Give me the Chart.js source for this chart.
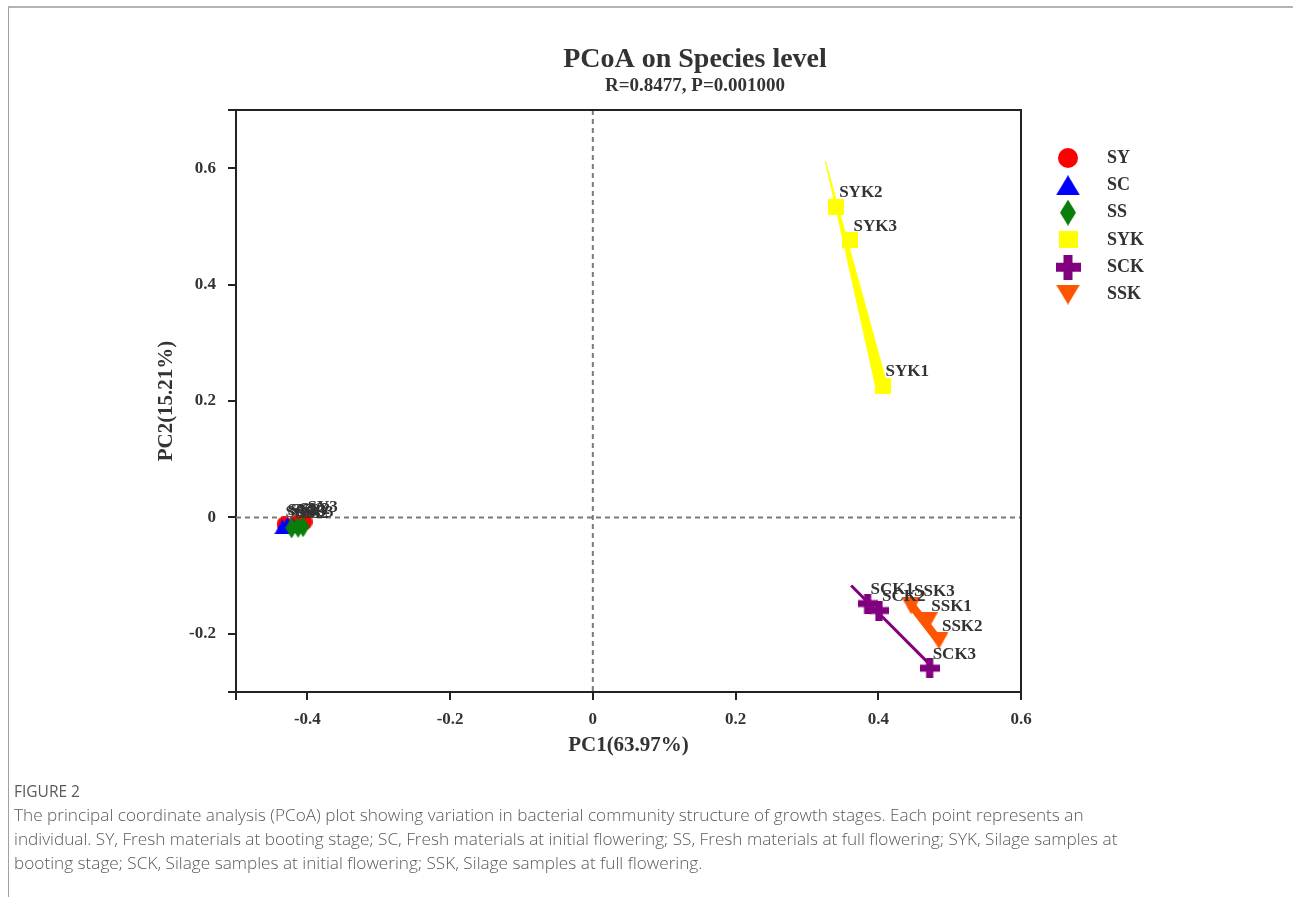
<!DOCTYPE html>
<html>
<head>
<meta charset="utf-8">
<script src="https://cdn.jsdelivr.net/npm/chart.js@4.4.1/dist/chart.umd.min.js"></script>
<style>
  html, body { margin: 0; padding: 0; background: #fff; }
  body { width: 1293px; height: 897px; position: relative; overflow: hidden; }
  .frame { position: absolute; left: 8px; top: 6px; right: 0; bottom: 0;
           border-top: 2px solid #b4b4b4; border-left: 1px solid #a0a0a0; }
  #wrap { position: absolute; left: 0; top: 0; width: 1293px; height: 780px; }
  .caption { position: absolute; left: 14px; top: 779px; width: 1260px;
             font-family: "Open Sans", Lato, sans-serif; color: #5a5a5a; }
  .caption .fig { font-size: 15.5px; line-height: 24px; }
  .caption .txt { font-size: 17.2px; line-height: 24px; font-weight: 300; }
</style>
</head>
<body>
<div class="frame"></div>
<div id="wrap"><canvas id="pcoa"></canvas></div>
<div class="caption">
  <div class="fig">FIGURE 2</div>
  <div class="txt">The principal coordinate analysis (PCoA) plot showing variation in bacterial community structure of growth stages. Each point represents an<br>individual. SY, Fresh materials at booting stage; SC, Fresh materials at initial flowering; SS, Fresh materials at full flowering; SYK, Silage samples at<br>booting stage; SCK, Silage samples at initial flowering; SSK, Silage samples at full flowering.</div>
</div>
<script>
// Sample coordinates [PC1, PC2]
const SY  = [[-0.432, -0.012], [-0.415, -0.010], [-0.404, -0.008]];
const SC  = [[-0.435, -0.016], [-0.428, -0.012], [-0.420, -0.014]];
const SS  = [[-0.422, -0.018], [-0.413, -0.017], [-0.406, -0.016]];
const SYK = [[0.406, 0.226], [0.341, 0.534], [0.361, 0.476]];
const SCK = [[0.385, -0.148], [0.401, -0.160], [0.472, -0.259]];
const SSK = [[0.470, -0.178], [0.485, -0.212], [0.446, -0.152]];

// group trend marks
const sykBand = [[0.326, 0.612], [0.397, 0.221], [0.414, 0.221], [0.326, 0.612]];
const sckLine = [[0.362, -0.117], [0.470, -0.250]];
const sskLine = [[0.446, -0.150], [0.485, -0.212]];

const groupNames  = ['SY', 'SC', 'SS', 'SYK', 'SCK', 'SSK'];
const groupColors = ['#ff0000', '#0000ff', '#0a7d0a', '#ffff00', '#800080', '#ff5500'];
const groupShapes = ['circle', 'triangle', 'diamond', 'square', 'plus', 'triangleDown'];

const xTickValues = [-0.5, -0.4, -0.2, 0, 0.2, 0.4, 0.6];
const xTickLabels = ['', '-0.4', '-0.2', '0', '0.2', '0.4', '0.6'];
const yTickValues = [-0.3, -0.2, 0, 0.2, 0.4, 0.6, 0.7];
const yTickLabels = ['', '-0.2', '0', '0.2', '0.4', '0.6', ''];

const SERIF = '"Liberation Serif", "Times New Roman", serif';

// marker images
function makeMarker(shape, color, w, h) {
    const c = document.createElement('canvas');
    c.width = w; c.height = h;
    const g = c.getContext('2d');
    g.fillStyle = color;
    g.beginPath();
    if (shape === 'circle') {
        g.ellipse(w / 2, h / 2, w / 2, h / 2, 0, 0, Math.PI * 2);
    } else if (shape === 'triangle') {
        g.moveTo(w / 2, 0); g.lineTo(w, h); g.lineTo(0, h);
    } else if (shape === 'triangleDown') {
        g.moveTo(0, 0); g.lineTo(w, 0); g.lineTo(w / 2, h);
    } else if (shape === 'diamond') {
        g.moveTo(w / 2, 0); g.lineTo(w, h / 2); g.lineTo(w / 2, h); g.lineTo(0, h / 2);
    } else if (shape === 'square') {
        g.rect(0, 0, w, h);
    } else if (shape === 'plus') {
        const t = w * 0.36;
        g.rect((w - t) / 2, 0, t, h);
        g.rect(0, (h - t) / 2, w, t);
    }
    g.fill();
    return c;
}

const plotSizes   = [[16, 16], [16, 15], [13, 21], [16, 16], [20, 20], [19, 17]];
const legendSizes = [[20, 20], [24, 20], [16, 26], [19, 17], [25, 25], [24, 20]];
const plotMarkers   = groupShapes.map((s, i) => makeMarker(s, groupColors[i], plotSizes[i][0], plotSizes[i][1]));
const legendMarkers = groupShapes.map((s, i) => makeMarker(s, groupColors[i], legendSizes[i][0], legendSizes[i][1]));

const toXY = arr => arr.map(p => ({ x: p[0], y: p[1] }));
const groupData = [SY, SC, SS, SYK, SCK, SSK];

// later groups are drawn on top of earlier ones
const datasets = groupData.map((pts, i) => ({
    label: groupNames[i],
    data: toXY(pts),
    sampleLabels: pts.map((p, k) => groupNames[i] + (k + 1)),
    pointStyle: plotMarkers[i],
    backgroundColor: groupColors[i],
    showLine: false,
    order: 6 - i
}));

datasets.push({
    label: 'SYK band', data: toXY(sykBand), showLine: true, fill: 'shape',
    backgroundColor: '#ffff00', borderColor: '#ffff00', borderWidth: 1,
    pointRadius: 0, order: 10
});
datasets.push({
    label: 'SCK line', data: toXY(sckLine), showLine: true,
    borderColor: '#800080', borderWidth: 3, pointRadius: 0, order: 10
});
datasets.push({
    label: 'SSK line', data: toXY(sskLine), showLine: true,
    borderColor: '#ff5500', borderWidth: 8, pointRadius: 0, order: 10
});

// frame + zero reference lines
const framePlugin = {
    id: 'framePlugin',
    beforeDatasetsDraw(chart) {
        const { ctx, chartArea: a, scales } = chart;
        const x0 = scales.x.getPixelForValue(0);
        const y0 = scales.y.getPixelForValue(0);
        ctx.save();
        ctx.strokeStyle = '#7a7a7a';
        ctx.lineWidth = 2;
        ctx.setLineDash([5, 4]);
        ctx.beginPath();
        ctx.moveTo(x0, a.top); ctx.lineTo(x0, a.bottom);
        ctx.moveTo(a.left, y0); ctx.lineTo(a.right, y0);
        ctx.stroke();
        ctx.restore();
    },
    afterDraw(chart) {
        const { ctx, chartArea: a } = chart;
        ctx.save();
        ctx.strokeStyle = '#222';
        ctx.lineWidth = 2;
        ctx.beginPath();
        ctx.moveTo(a.left, a.top); ctx.lineTo(a.right, a.top); ctx.lineTo(a.right, a.bottom);
        ctx.stroke();
        ctx.restore();
    }
};

// sample name labels next to each point
const labelPlugin = {
    id: 'labelPlugin',
    afterDatasetsDraw(chart) {
        const { ctx } = chart;
        ctx.save();
        ctx.font = 'bold 17px ' + SERIF;
        ctx.fillStyle = '#333';
        ctx.textBaseline = 'middle';
        ctx.textAlign = 'left';
        chart.data.datasets.forEach((ds, i) => {
            if (!ds.sampleLabels) return;
            chart.getDatasetMeta(i).data.forEach((pt, k) => {
                ctx.fillText(ds.sampleLabels[k], pt.x + 3, pt.y - 14);
            });
        });
        ctx.restore();
    }
};

// headings and legend
const headPlugin = {
    id: 'headPlugin',
    afterDraw(chart) {
        const { ctx } = chart;
        ctx.save();
        ctx.fillStyle = '#333';
        ctx.textAlign = 'center';
        ctx.textBaseline = 'middle';
        ctx.font = 'bold 28px ' + SERIF;
        ctx.fillText('PCoA on Species level', 695, 60);
        ctx.font = 'bold 19px ' + SERIF;
        ctx.fillText('R=0.8477, P=0.001000', 695, 86);

        const legX = 1068, legY = 158, step = 27.3;
        ctx.textAlign = 'left';
        ctx.font = 'bold 18px ' + SERIF;
        groupNames.forEach((name, i) => {
            const m = legendMarkers[i];
            const cy = legY + i * step;
            ctx.drawImage(m, legX - m.width / 2, cy - m.height / 2);
            ctx.fillText(name, 1107, cy);
        });
        ctx.restore();
    }
};

const tickFont = { family: SERIF, size: 17, weight: 'bold' };
const gridOpts = { drawOnChartArea: false, drawTicks: true, tickLength: 8, color: '#222', lineWidth: 2 };

new Chart(document.getElementById('pcoa'), {
    type: 'scatter',
    data: { datasets },
    options: {
        responsive: true,
        maintainAspectRatio: false,
        animation: false,
        layout: { padding: { left: 150, right: 272, top: 110, bottom: 18 } },
        plugins: {
            legend: { display: false },
            tooltip: { enabled: false }
        },
        scales: {
            x: {
                type: 'linear', min: -0.5, max: 0.6,
                afterBuildTicks: s => { s.ticks = xTickValues.map(v => ({ value: v })); },
                afterFit: s => { s.height = 70; },
                ticks: {
                    font: tickFont, color: '#333', padding: 9, maxRotation: 0, autoSkip: false,
                    callback: (v, idx) => xTickLabels[idx]
                },
                grid: gridOpts,
                border: { color: '#222', width: 2 },
                title: { display: true, text: 'PC1(63.97%)', color: '#333',
                         font: { family: SERIF, size: 21, weight: 'bold' }, padding: { top: 4 } }
            },
            y: {
                type: 'linear', min: -0.3, max: 0.7,
                afterBuildTicks: s => { s.ticks = yTickValues.map(v => ({ value: v })); },
                afterFit: s => { s.width = 86; },
                ticks: {
                    font: tickFont, color: '#333', padding: 12, autoSkip: false,
                    callback: (v, idx) => yTickLabels[idx]
                },
                grid: gridOpts,
                border: { color: '#222', width: 2 },
                title: { display: true, text: 'PC2(15.21%)', color: '#333',
                         font: { family: SERIF, size: 21, weight: 'bold' } }
            }
        }
    },
    plugins: [framePlugin, labelPlugin, headPlugin]
});
</script>
</body>
</html>
